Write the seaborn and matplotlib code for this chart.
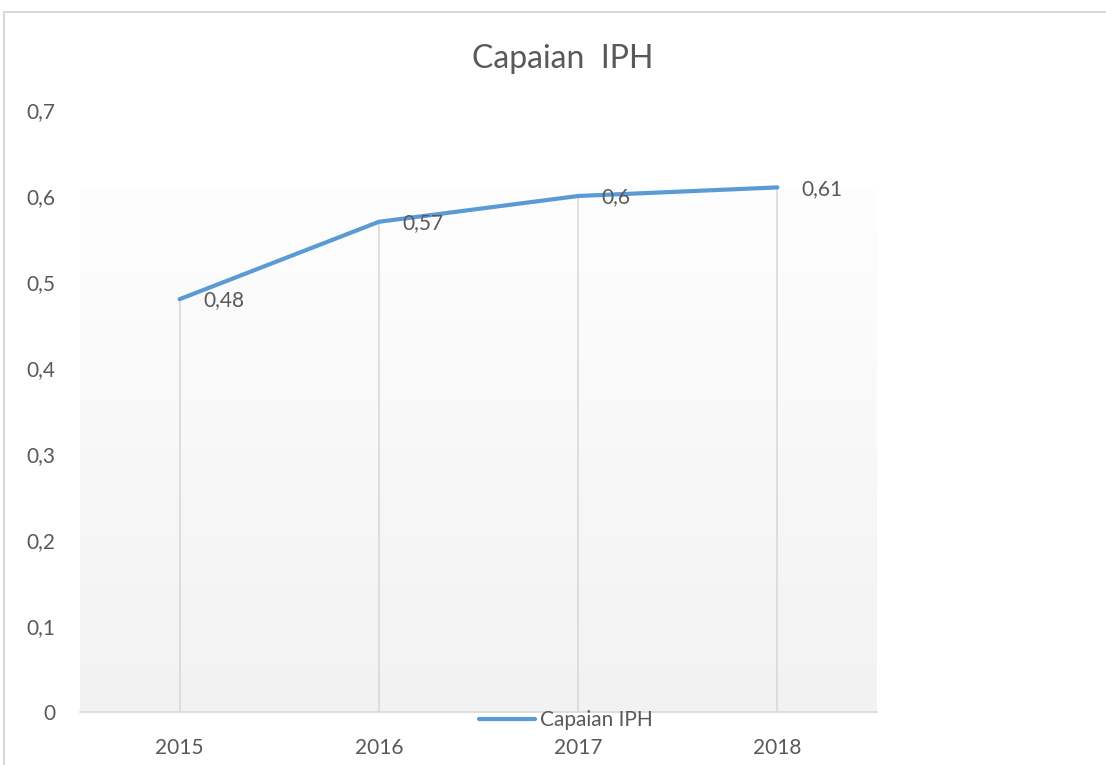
import numpy as np
import pandas as pd
import matplotlib
matplotlib.use("Agg")
import matplotlib.pyplot as plt
import seaborn as sns
from matplotlib.patches import Rectangle
from matplotlib.colors import LinearSegmentedColormap

years = ["2015", "2016", "2017", "2018"]
values = [0.48, 0.57, 0.60, 0.61]
labels = ["0,48", "0,57", "0,6", "0,61"]
yticks = [0, 0.1, 0.2, 0.3, 0.4, 0.5, 0.6, 0.7]
ytick_labels = ["0", "0,1", "0,2", "0,3", "0,4", "0,5", "0,6", "0,7"]
series_name = "Capaian IPH"

sns.set_style("white")
plt.rcParams["font.family"] = ["Lato", "DejaVu Sans"]

TXT = "#595959"
BLUE = "#5b9bd5"
GRID = "#d9d9d9"
FS = 15

df = pd.DataFrame({"year": years, "value": values})

fig = plt.figure(figsize=(11.06, 7.65), dpi=100)
ax = fig.add_axes([80/1106, 1-712/765, (877-80)/1106, (712-110)/765])

# gradient background up to the series max
grad = np.linspace(0, 1, 256).reshape(-1, 1)
cmap = LinearSegmentedColormap.from_list("g", ["#f2f2f2", "#fefefe"])
ax.imshow(grad, extent=[-0.5, len(years)-0.5, 0, max(values)], origin="lower",
          aspect="auto", cmap=cmap, zorder=0)

xs = np.arange(len(years))
ax.vlines(xs, 0, values, colors=GRID, linewidth=1.2, zorder=1)

sns.lineplot(data=df, x="year", y="value", ax=ax, color=BLUE, linewidth=3,
             label=series_name, sort=False, zorder=3,
             solid_capstyle="round")

for x, v, lab in zip(xs, values, labels):
    ax.annotate(lab, (x, v), xytext=(17, -1), textcoords="offset points",
                ha="left", va="center", fontsize=FS, color=TXT, zorder=4)

ax.set_xlim(-0.5, len(years)-0.5)
ax.set_ylim(0, 0.7)
ax.set_yticks(yticks)
ax.set_yticklabels(ytick_labels)
ax.set_xticks(xs)
ax.set_xticklabels(years)
ax.set_xlabel("")
ax.set_ylabel("")
ax.tick_params(axis="y", length=0, pad=18, labelsize=FS, labelcolor=TXT)
ax.tick_params(axis="x", length=0, pad=19, labelsize=FS, labelcolor=TXT)
for s in ["top", "right", "left"]:
    ax.spines[s].set_visible(False)
ax.spines["bottom"].set_color(GRID)
ax.spines["bottom"].set_linewidth(1.2)
ax.set_facecolor("white")
ax.grid(False)

ax.get_legend().remove()
h, l = ax.get_legend_handles_labels()
fig.legend(h, l, loc="center", bbox_to_anchor=(566/1106, 1-720/765), frameon=False,
           fontsize=15, labelcolor=TXT, handlelength=2.65, handletextpad=0.25,
           borderpad=0)

fig.text(563/1106, 1-59/765, "Capaian  IPH", ha="center", va="center",
         fontsize=23, color=TXT)

fig.patches.append(Rectangle((4/1106, -0.1), 1.2, 1.1 - 12/765,
                             transform=fig.transFigure, fill=False,
                             edgecolor=GRID, linewidth=1.5))

fig.savefig("out.png", dpi=100, facecolor="white")
